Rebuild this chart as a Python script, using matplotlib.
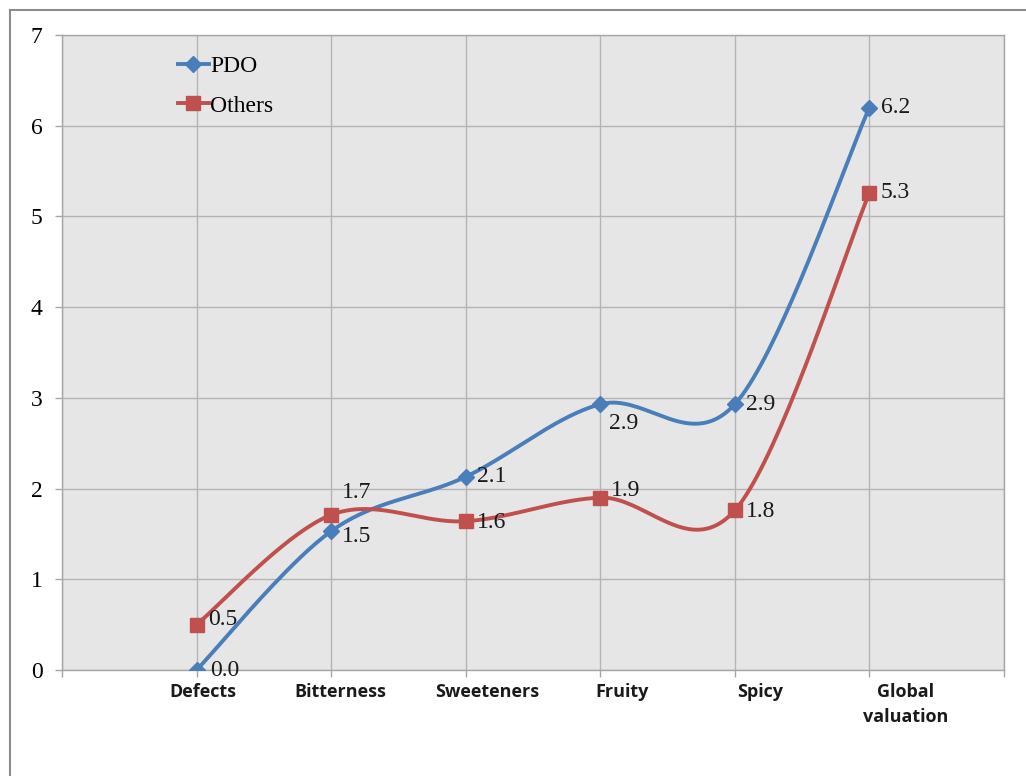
import numpy as np
import matplotlib
matplotlib.use("Agg")
import matplotlib.pyplot as plt
from matplotlib.lines import Line2D

categories = ["Defects", "Bitterness", "Sweeteners", "Fruity", "Spicy", "Global\nvaluation"]
pdo = [0.0, 1.53, 2.13, 2.93, 2.93, 6.2]
others = [0.5, 1.71, 1.64, 1.9, 1.76, 5.26]
pdo_labels = ["0.0", "1.5", "2.1", "2.9", "2.9", "6.2"]
others_labels = ["0.5", "1.7", "1.6", "1.9", "1.8", "5.3"]

BLUE = "#4a7ebb"
RED = "#c0504d"
SERIF = ["Liberation Serif", "DejaVu Serif"]


def smooth(xs, ys, n=40):
    # excel-ish smoothing: catmull-rom as cubic bezier
    p = np.column_stack([xs, ys]).astype(float)
    p = np.vstack([p[0], p, p[-1]])
    out = []
    t = np.linspace(0, 1, n)[:, None]
    for i in range(1, len(p) - 2):
        p0, p3 = p[i], p[i + 1]
        c1 = p0 + (p[i + 1] - p[i - 1]) / 6
        c2 = p3 - (p[i + 2] - p[i]) / 6
        seg = ((1 - t) ** 3) * p0 + 3 * ((1 - t) ** 2) * t * c1 + 3 * (1 - t) * t ** 2 * c2 + t ** 3 * p3
        out.append(seg if i == 1 else seg[1:])
    s = np.vstack(out)
    return s[:, 0], s[:, 1]


fig = plt.figure(figsize=(10.26, 7.76), dpi=100)
ax = fig.add_axes([62 / 1026, 1 - 670 / 776, 942 / 1026, 635 / 776])
ax.set_facecolor("#e6e6e6")

xs = np.arange(len(categories))
for vals, col, mk, ms in [(pdo, BLUE, "D", 8), (others, RED, "s", 10)]:
    sx, sy = smooth(xs, vals)
    ax.plot(sx, sy, color=col, lw=2.8, solid_capstyle="round", zorder=3)
    ax.plot(xs, vals, ls="none", marker=mk, ms=ms, color=col, zorder=4)

# data labels (offsets in points)
pdo_off = [(10, 0), (8, -4), (8, 0), (6, -14), (8, 0), (8, 0)]
oth_off = [(8, 4), (8, 16), (8, -1), (8, 5), (8, -1), (8, 0)]
for vals, labs, offs in [(pdo, pdo_labels, pdo_off), (others, others_labels, oth_off)]:
    for x, v, lab, off in zip(xs, vals, labs, offs):
        ax.annotate(lab, (x, v), xytext=off, textcoords="offset points",
                    ha="left", va="center", fontsize=17, family=SERIF, color="#1a1a1a", zorder=5)

ax.set_xlim(-1, 6)
ax.set_ylim(0, 7)
ax.set_xticks(np.arange(-1, 7))
ax.set_xticklabels([])
ax.set_yticks(np.arange(0, 8))
ax.set_yticklabels([str(i) for i in range(8)], family=SERIF, fontsize=17)
ax.grid(True, color="#b4b4b4", lw=1)
ax.set_axisbelow(True)
for sp in ax.spines.values():
    sp.set_color("#a6a6a6")
    sp.set_linewidth(1)
ax.tick_params(axis="both", color="#a6a6a6", length=5, width=1)
ax.tick_params(axis="y", pad=9)

# category labels, nudged like the original
label_dx = [0.05, 0.07, 0.16, 0.16, 0.19, 0.27]
for x, c, dx in zip(xs, categories, label_dx):
    ax.text(x + dx, -0.14, c, ha="center", va="top", fontsize=13, fontweight="bold",
            family=["Open Sans", "DejaVu Sans"], color="#1a1a1a", linespacing=1.5)

handles = [Line2D([], [], color=BLUE, lw=2.8, marker="D", ms=8),
           Line2D([], [], color=RED, lw=2.8, marker="s", ms=10)]
ax.legend(handles, ["PDO", "Others"], loc="upper left", bbox_to_anchor=(0.123, 0.967),
          frameon=False, handlelength=1.3, handletextpad=0.08, labelspacing=0.75,
          borderaxespad=0, borderpad=0, prop={"family": SERIF, "size": 17})

# outer chart frame
fig.add_artist(Line2D([10 / 1026, 10 / 1026], [0, 1 - 10 / 776], color="#8c8c8c", lw=1.5))
fig.add_artist(Line2D([10 / 1026, 1], [1 - 10 / 776, 1 - 10 / 776], color="#8c8c8c", lw=1.5))

fig.savefig("out.png", dpi=100)
